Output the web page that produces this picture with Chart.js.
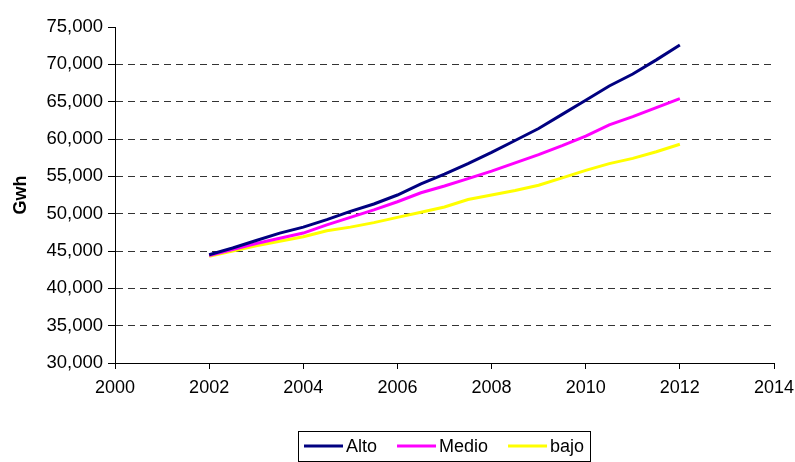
<!DOCTYPE html>
<html>
<head>
<meta charset="utf-8">
<script src="https://cdn.jsdelivr.net/npm/chart.js@4"></script>
<style>
  html, body { margin: 0; padding: 0; background: #fff; }
</style>
</head>
<body>
<canvas id="chart" width="795" height="462"></canvas>
<script>
// Half-year steps 2002 - 2012
const years = [2002, 2002.5, 2003, 2003.5, 2004, 2004.5, 2005, 2005.5, 2006, 2006.5, 2007,
               2007.5, 2008, 2008.5, 2009, 2009.5, 2010, 2010.5, 2011, 2011.5, 2012];

const alto  = [44500, 45400, 46400, 47400, 48200, 49200, 50300, 51300, 52500, 54000, 55300,
               56700, 58200, 59800, 61400, 63300, 65200, 67100, 68700, 70600, 72600];
const medio = [44400, 45200, 46000, 46700, 47400, 48500, 49500, 50500, 51600, 52800, 53700,
               54700, 55700, 56800, 57900, 59100, 60400, 61900, 63000, 64200, 65400];
const bajo  = [44300, 45000, 45700, 46300, 46900, 47700, 48200, 48800, 49500, 50200, 50900,
               51900, 52500, 53100, 53800, 54800, 55800, 56700, 57400, 58300, 59300];

const seriesNames  = ['Alto', 'Medio', 'bajo'];
const seriesColors = ['#000080', '#ff00ff', '#ffff00'];
const seriesValues = [alto, medio, bajo];

const FONT = '"Liberation Sans", Arial, sans-serif';

// legend drawn as a framed row centred under the plot
const boxedLegend = {
  id: 'boxedLegend',
  afterDraw(chart) {
    const ctx = chart.ctx;
    const area = chart.chartArea;
    ctx.save();
    ctx.font = '18px ' + FONT;
    const sample = 39, gap = 3, itemGap = 20, pad = 6;
    const items = chart.data.datasets.map(ds => ({
      label: ds.label,
      color: ds.borderColor,
      w: sample + gap + ctx.measureText(ds.label).width
    }));
    const total = items.reduce((s, it) => s + it.w, 0) + itemGap * (items.length - 1) + pad * 2;
    let x = Math.round((area.left + area.right) / 2 - total / 2);
    const top = 431, h = 30, cy = top + h / 2;
    ctx.strokeStyle = '#000';
    ctx.lineWidth = 1;
    ctx.strokeRect(x + 0.5, top + 0.5, Math.round(total), h);
    x += pad;
    items.forEach(it => {
      ctx.strokeStyle = it.color;
      ctx.lineWidth = 3;
      ctx.beginPath();
      ctx.moveTo(x, cy);
      ctx.lineTo(x + sample, cy);
      ctx.stroke();
      ctx.fillStyle = '#000';
      ctx.textBaseline = 'middle';
      ctx.fillText(it.label, x + sample + gap, cy + 1);
      x += it.w + itemGap;
    });
    ctx.restore();
  }
};

const ctx = document.getElementById('chart').getContext('2d');

const chart = new Chart(ctx, {
  type: 'line',
  data: {
    datasets: seriesNames.map((name, i) => ({
      label: name,
      data: years.map((yr, j) => ({ x: yr, y: seriesValues[i][j] })),
      borderColor: seriesColors[i],
      backgroundColor: seriesColors[i],
      borderWidth: 3,
      pointRadius: 0,
      tension: 0,
      fill: false
    }))
  },
  options: {
    responsive: false,
    animation: false,
    layout: { padding: { top: 27, right: 21, bottom: 64, left: 0 } },
    plugins: {
      legend: { display: false },
      tooltip: { enabled: false }
    },
    scales: {
      x: {
        type: 'linear',
        min: 2000,
        max: 2014,
        afterFit: scale => { scale.height = 35; scale.paddingRight = 0; scale.paddingLeft = 0; },
        grid: { drawOnChartArea: false, tickLength: 6, tickColor: '#000' },
        border: { color: '#000' },
        ticks: {
          stepSize: 2,
          padding: 8,
          color: '#000',
          font: { family: FONT, size: 18 },
          maxRotation: 0,
          callback: v => String(v)
        }
      },
      y: {
        min: 30000,
        max: 75000,
        afterFit: scale => { scale.width = 115; scale.paddingTop = 0; },
        grid: {
          color: c => (c.tick && (c.tick.value === 30000 || c.tick.value === 75000)) ? 'rgba(0,0,0,0)' : '#333',
          tickColor: '#000',
          tickLength: 7,
          lineWidth: 1
        },
        border: { color: '#000', dash: [7, 5] },
        ticks: {
          stepSize: 5000,
          padding: 5,
          color: '#000',
          font: { family: FONT, size: 18.5 },
          callback: v => v.toLocaleString('en-US')
        },
        title: {
          display: true,
          text: 'Gwh',
          color: '#000',
          font: { family: FONT, size: 18, weight: 'bold' },
          padding: { top: 10, bottom: 0 }
        }
      }
    }
  },
  plugins: [boxedLegend]
});
</script>
</body>
</html>
